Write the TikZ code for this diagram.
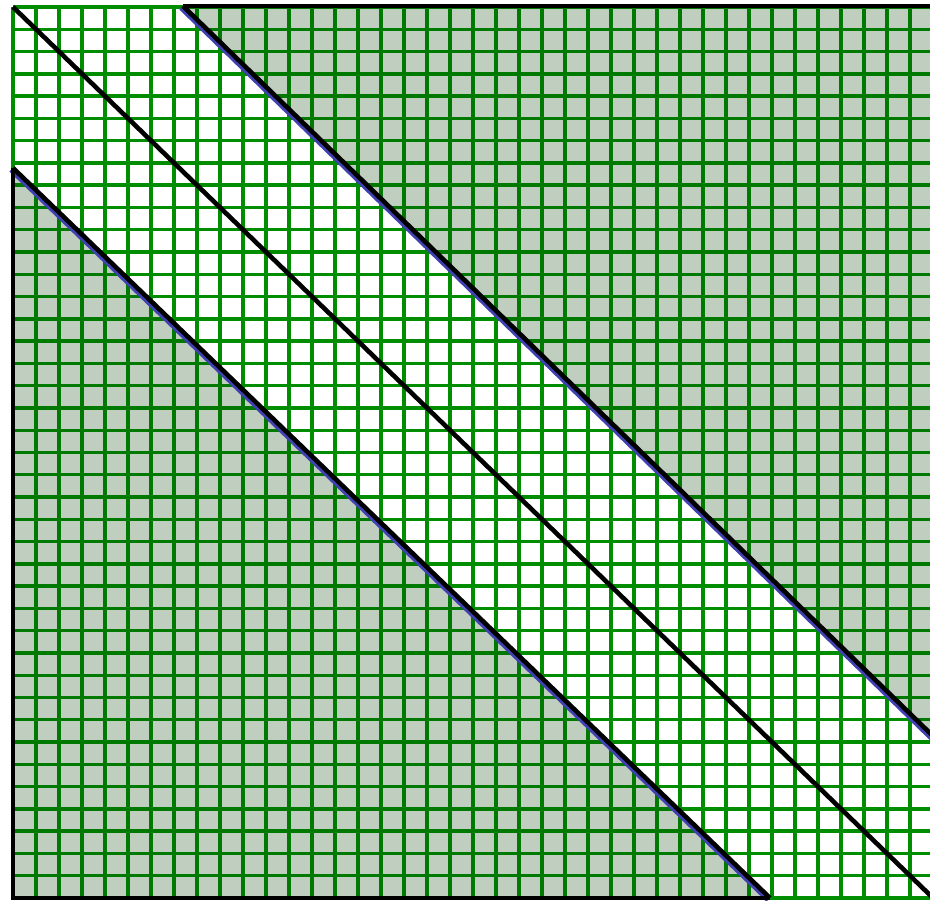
\documentclass[tikz,border=0pt]{standalone}
\definecolor{gridgreen}{RGB}{0,142,0}
\definecolor{shadecol}{RGB}{0,61,0}
\definecolor{edgeblue}{RGB}{64,64,176}
\begin{document}
\begin{tikzpicture}[x=1pt,y=1pt,
  gridline/.style={draw=gridgreen,line width=3.4pt},
  shaded/.style={fill=shadecol,fill opacity=0.25},
  blueedge/.style={draw=edgeblue,line width=3.5pt},
  blackedge/.style={draw=black,line width=4.6pt}]
\useasboundingbox (0,0) rectangle (930,901);
\clip (0,0) rectangle (930,901);
\fill[white] (0,0) rectangle (930,901);
% grid
\foreach \k in {0,...,40} {
  \draw[gridline] ({13+23*\k},3) -- ({13+23*\k},894);
  \draw[gridline] (13,{894-22.275*\k}) -- (933,{894-22.275*\k});
}
% key points
\coordinate (TL) at (13,894);
\coordinate (TR) at (935,895);
\coordinate (BL) at (13,3);
\coordinate (BR) at (933,3);
\coordinate (UA) at (183,895);
\coordinate (UB) at (935,163);
\coordinate (LA) at (13,733);
\coordinate (LB) at (770,3);
% shaded regions
\fill[shaded] (UA) -- (TR) -- (UB) -- cycle;
\fill[shaded] (LA) -- (BL) -- (LB) -- cycle;
% blue edges (offset down-left)
\draw[blueedge] ([shift={(-2.4,-2.4)}]UA) -- ([shift={(-2.4,-2.4)}]UB);
\draw[blueedge] ([shift={(-2.4,-2.4)}]LA) -- ([shift={(-2.4,-2.4)}]LB);
% black lines
\draw[blackedge] (UA) -- (UB);
\draw[blackedge] (LA) -- (LB);
\draw[blackedge] (TL) -- (BR);
\draw[blackedge] (UA) -- (TR);
\draw[blackedge] (LA) -- (BL) -- (LB);
\end{tikzpicture}
\end{document}
